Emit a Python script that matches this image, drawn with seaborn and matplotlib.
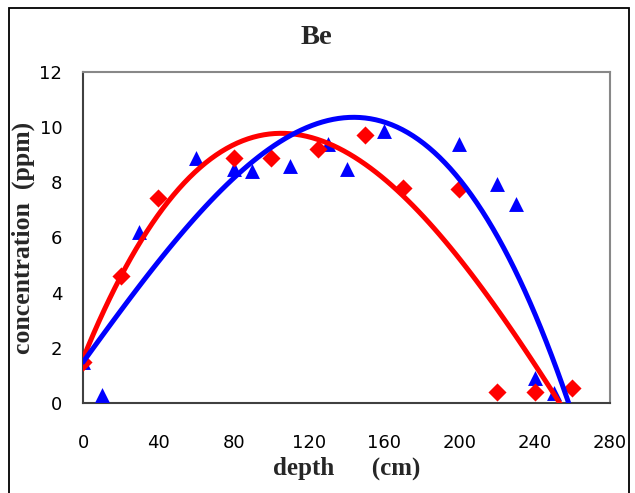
import matplotlib
matplotlib.use("Agg")
import matplotlib.pyplot as plt
import seaborn as sns
import numpy as np
import pandas as pd
from matplotlib.patches import Rectangle

# data
red_depth = [0, 20, 40, 80, 100, 125, 150, 170, 200, 220, 240, 260]
red_conc = [1.5, 4.6, 7.45, 8.9, 8.9, 9.2, 9.7, 7.8, 7.75, 0.4, 0.4, 0.55]
blue_depth = [0, 10, 30, 60, 80, 90, 110, 130, 140, 160, 200, 220, 230, 240, 250]
blue_conc = [1.5, 0.3, 6.2, 8.9, 8.5, 8.4, 8.6, 9.4, 8.5, 9.85, 9.4, 7.95, 7.2, 0.9, 0.35]
x_ticks = [0, 40, 80, 120, 160, 200, 240, 280]
y_ticks = [0, 2, 4, 6, 8, 10, 12]

red_df = pd.DataFrame({"depth": red_depth, "conc": red_conc})
blue_df = pd.DataFrame({"depth": blue_depth, "conc": blue_conc})

sns.set_style("white")
plt.rcParams["font.family"] = ["DejaVu Sans"]

fig = plt.figure(figsize=(6.35, 4.93), dpi=100)
ax = fig.add_axes([83 / 635, 1 - 403 / 493, (610 - 83) / 635, (403 - 72) / 493])
ax.set_xlim(0, 280)
ax.set_ylim(0, 12)

RED = "#FF0000"
BLUE = "#0000FF"

sns.scatterplot(data=blue_df, x="depth", y="conc", ax=ax, marker="^", s=115,
                color=BLUE, edgecolor=BLUE, linewidth=0, zorder=3, legend=False)
sns.scatterplot(data=red_df, x="depth", y="conc", ax=ax, marker="D", s=85,
                color=RED, edgecolor=RED, linewidth=0, zorder=3, legend=False)
sns.regplot(data=red_df, x="depth", y="conc", ax=ax, order=3, ci=None,
            scatter=False, truncate=False,
            line_kws={"color": RED, "lw": 3.6, "zorder": 4})
sns.regplot(data=blue_df, x="depth", y="conc", ax=ax, order=3, ci=None,
            scatter=False, truncate=False,
            line_kws={"color": BLUE, "lw": 3.6, "zorder": 5})

ax.set_xlim(0, 280)
ax.set_ylim(0, 12)
ax.set_xticks(x_ticks)
ax.set_yticks(y_ticks)
ax.tick_params(axis="both", direction="out", width=1, color="black",
               labelsize=13, labelcolor="black")
ax.tick_params(axis="x", length=7.5, pad=15)
ax.tick_params(axis="y", length=6, pad=9)

for side in ["left", "bottom"]:
    ax.spines[side].set_color("#404040")
    ax.spines[side].set_linewidth(1.5)
for side in ["top", "right"]:
    ax.spines[side].set_visible(True)
    ax.spines[side].set_color("#888888")
    ax.spines[side].set_linewidth(1.5)

serif = ["Liberation Serif", "DejaVu Serif"]
ax.set_xlabel("depth      (cm)", fontsize=18, fontweight="bold", family=serif, labelpad=3)
ax.set_ylabel("concentration  (ppm)", fontsize=18.5, fontweight="bold", family=serif, labelpad=3)
fig.text(316 / 635, 1 - 37 / 493, "Be", ha="center", va="center",
         fontsize=20.5, fontweight="bold", family=serif)

fig.patches.append(Rectangle((9 / 635, -0.05), (629 - 9) / 635, 1 - 8 / 493 + 0.05,
                             transform=fig.transFigure, fill=False,
                             edgecolor="black", linewidth=1.3, clip_on=False))

fig.savefig("out.png", dpi=100)
